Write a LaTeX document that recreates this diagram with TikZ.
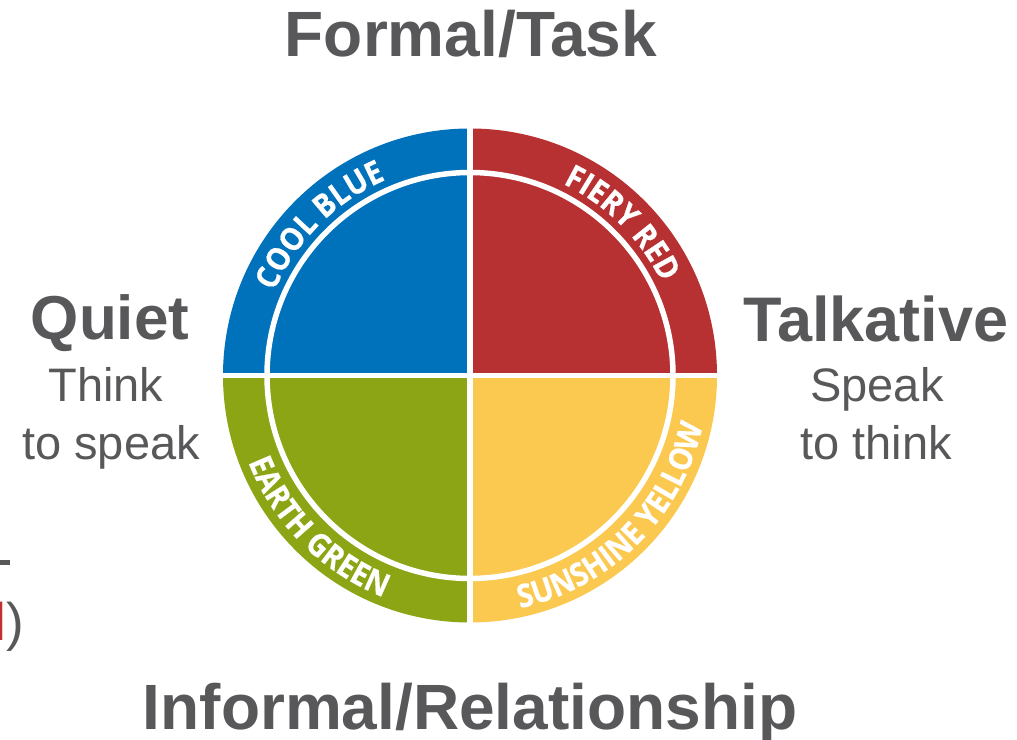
\documentclass[tikz,border=0pt]{standalone}
\usepackage{fontspec}
\setmainfont{Liberation Sans}
\newfontfamily\ringfont{Open Sans}[FakeStretch=0.9, BoldFeatures={FakeBold=0.6}]
\usetikzlibrary{decorations.text,calc}
\definecolor{coolblue}{RGB}{0,113,187}
\definecolor{fieryred}{RGB}{183,49,51}
\definecolor{earthgreen}{RGB}{139,165,21}
\definecolor{sunyellow}{RGB}{251,200,80}
\definecolor{txtgray}{RGB}{88,88,90}
\definecolor{strayred}{RGB}{192,50,50}
\tikzset{
  title/.style={text=txtgray, inner sep=0pt, anchor=base, font=\bfseries\fontsize{64}{64}\selectfont},
  side/.style={text=txtgray, inner sep=0pt, anchor=base, font=\bfseries\fontsize{62}{62}\selectfont},
  sub/.style={text=txtgray, inner sep=0pt, anchor=base, font=\fontsize{47}{47}\selectfont},
  gapline/.style={draw=white, line width=5.5pt},
  ringlabel/.style={decorate, decoration={text along path, text align=center,
     text={|\ringfont\bfseries\fontsize{32}{32}\selectfont\color{white}|#1}}}
}
\begin{document}
\begin{tikzpicture}[x=1pt,y=1pt]
\useasboundingbox (0,0) rectangle (1017,739);
\coordinate (C) at (470,363.5);
% quadrants
\fill[coolblue] (C) -- ++(180:247) arc[start angle=180, end angle=90, radius=247] -- cycle;
\fill[fieryred] (C) -- ++(90:247) arc[start angle=90, end angle=0, radius=247] -- cycle;
\fill[sunyellow] (C) -- ++(0:247) arc[start angle=0, end angle=-90, radius=247] -- cycle;
\fill[earthgreen] (C) -- ++(-90:247) arc[start angle=-90, end angle=-180, radius=247] -- cycle;
% white separators
\draw[gapline] (C) circle[radius=203];
\draw[gapline] ($(C)+(-250,0)$) -- ($(C)+(250,0)$);
\draw[gapline] ($(C)+(0,-250)$) -- ($(C)+(0,250)$);
% ring labels
\path[ringlabel={COOL BLUE}] ($(C)+(170:213)$) arc[start angle=170, end angle=100, radius=213];
\path[ringlabel={FIERY RED}] ($(C)+(80:213)$) arc[start angle=80, end angle=10, radius=213];
\path[ringlabel={EARTH GREEN}] ($(C)+(190:238)$) arc[start angle=190, end angle=260, radius=238];
\path[ringlabel={SUNSHINE YELLOW}] ($(C)+(280:238)$) arc[start angle=280, end angle=350, radius=238];
% titles
\node[title] (top) at (471,682) {Formal/Task};
\node[title] (bottom) at (470,10) {Informal/Relationship};
\node[side] (quiet) at (110,399) {Quiet};
\node[sub] (think) at (106,337) {Think};
\node[sub] (tospeak) at (111,279) {to speak};
\node[side, font=\bfseries\fontsize{63}{63}\selectfont] (talk) at (876,397) {Talkative};
\node[sub] (speak) at (877,337) {Speak};
\node[sub] (tothink) at (876,279) {to think};
% cut-off fragments at the left edge
\fill[txtgray] (0,174) rectangle (10,179);
\node[text=txtgray, inner sep=0pt, anchor=base east, font=\fontsize{53}{53}\selectfont] (frag) at (24,99) {{\color{strayred}l})};
\end{tikzpicture}
\end{document}
